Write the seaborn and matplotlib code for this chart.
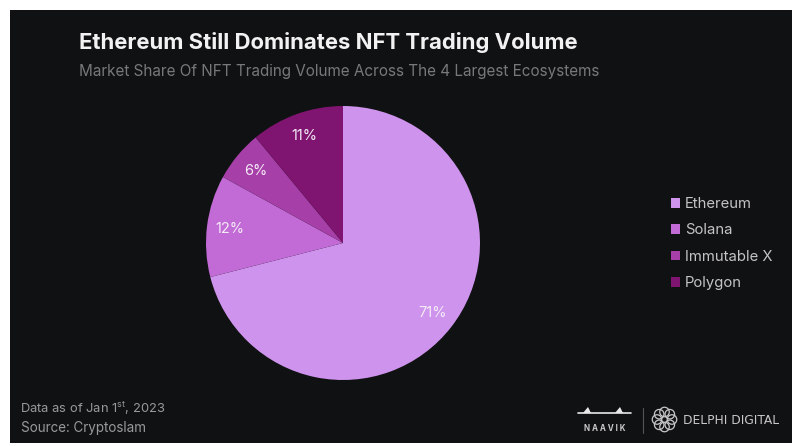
import numpy as np
import matplotlib
matplotlib.use("Agg")
import matplotlib.pyplot as plt
from matplotlib.patches import Rectangle, Ellipse, Polygon
from matplotlib.lines import Line2D
import seaborn as sns

W, H = 794, 446

chains = ["Ethereum", "Solana", "Immutable X", "Polygon"]
shares = [71, 12, 6, 11]
slice_colors = ["#CE93EC", "#C26BD6", "#A63FA8", "#7F1570"]

TITLE = "Ethereum Still Dominates NFT Trading Volume"
SUBTITLE = "Market Share Of NFT Trading Volume Across The 4 Largest Ecosystems"
FOOT_DATE = "Data as of Jan 1$^{\\mathregular{st}}$, 2023"
FOOT_SOURCE = "Source: Cryptoslam"

sns.set_theme(style="white")
plt.rcParams["font.family"] = ["Inter", "DejaVu Sans"]

fig = plt.figure(figsize=(W / 100, H / 100), dpi=100, facecolor="white")


def px(x, y):
    # pixel position from the top left -> figure fraction
    return x / W, 1 - y / H


fig.add_artist(Rectangle(px(10, 443), 782 / W, 433 / H, transform=fig.transFigure,
                         facecolor="#101113", edgecolor="none", zorder=-5))

# pie centre (343, 243), radius 137
ax = fig.add_axes([(343 - 137) / W, 1 - (243 + 137) / H, 274 / W, 274 / H])
ax.set_facecolor("none")
wedges, _, autotexts = ax.pie(
    shares, colors=sns.color_palette(slice_colors), startangle=90, counterclock=False,
    radius=1, autopct="%d%%", pctdistance=0.83,
    wedgeprops={"linewidth": 0},
    textprops={"color": "#F4EAF6", "fontsize": 10.5},
)
ax.set_xlim(-1, 1)
ax.set_ylim(-1, 1)

fig.text(*px(79, 49), TITLE, color="#F2F2F2", fontsize=15.9, fontweight="bold", va="baseline")
fig.text(*px(79, 76), SUBTITLE, color="#77787A", fontsize=11, va="baseline")

fig.text(*px(20.5, 413), FOOT_DATE, color="#98999B", fontsize=9.3, va="baseline")
fig.text(*px(21, 432), FOOT_SOURCE, color="#98999B", fontsize=9.7, va="baseline")

fig.legend(wedges, chains, loc="upper left", bbox_to_anchor=px(671, 197),
           frameon=False, fontsize=10.7, labelcolor="#C4C4C6", handlelength=0.62,
           handleheight=0.62, handletextpad=0.32, labelspacing=0.83,
           borderpad=0, borderaxespad=0)

# logos, roughly
fig.text(*px(605, 431), "N A A V I K", color="#C8C8C8", fontsize=5.8, fontweight="bold",
         ha="center", va="baseline")
fig.add_artist(Line2D([578 / W, 631 / W], [1 - 413 / H] * 2, color="#E8E8E8", lw=1.2))
for bx in (587, 619):
    fig.add_artist(Polygon([px(bx - 4, 413), px(bx + 1, 407), px(bx + 4, 413)], closed=True,
                           transform=fig.transFigure, facecolor="#E8E8E8", edgecolor="none"))
fig.add_artist(Line2D([643 / W] * 2, [1 - 408 / H, 1 - 433 / H], color="#555555", lw=0.8))
for a in np.linspace(0, 2 * np.pi, 8, endpoint=False):
    cx, cy = 664.5 + 7.5 * np.cos(a), 419.5 + 7.5 * np.sin(a)
    fig.add_artist(Ellipse(px(cx, cy), 9.5 / W, 9.5 / H, transform=fig.transFigure,
                           fill=False, edgecolor="#C8C8C8", lw=0.9))
fig.text(*px(683, 424), "DELPHI DIGITAL", color="#C8C8C8", fontsize=8.8, va="baseline",
         family="DejaVu Sans")

fig.savefig("out.png", dpi=100, facecolor=fig.get_facecolor())
